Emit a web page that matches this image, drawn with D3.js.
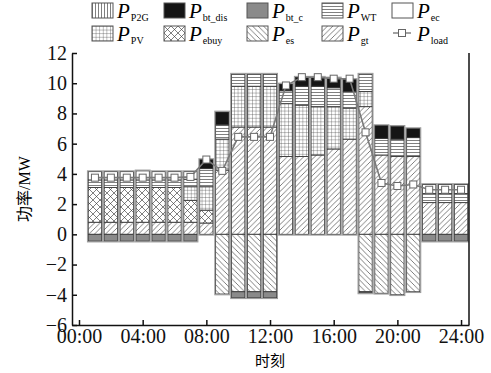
<!DOCTYPE html>
<html>
<head>
<meta charset="utf-8">
<script src="https://cdn.jsdelivr.net/npm/d3@7"></script>
<style>
  body { margin: 0; background: #fff; }
  svg { display: block; }
  .axis text { font-family: "Liberation Serif", "Times New Roman", serif; font-size: 20px; fill: #111; }
  .axis path, .axis line { stroke: #111; stroke-width: 1.5; }
</style>
</head>
<body>
<div id="chart"></div>
<script>
// hour slots, bars centred at 1..24
const hours = [1,2,3,4,5,6,7,8,9,10,11,12,13,14,15,16,17,18,19,20,21,22,23,24];

// supply side (MW)
const P_gt    = [0.8,0.8,0.8,0.8,0.8,0.8,0.8,0.75,4.25,7.1,7.1,7.1,5.15,5.15,5.25,5.65,6.3,8.45,5.25,5.15,5.15,2.1,2.1,2.1];
const P_ebuy  = [2.3,2.3,2.3,2.3,2.3,2.3,1.45,0.85,0,0,0,0,0,0,0,0,0,0,0,0,0,0,0,0];
const P_PV    = [0,0,0,0,0,0,0.9,1.55,2.05,2.7,2.7,2.7,3.5,3.4,3.2,2.8,2.05,1.0,0,0,0,0,0,0];
const P_WT    = [0.5,0.5,0.5,0.5,0.5,0.5,0.5,1.2,0.95,0.8,0.8,0.8,0.85,1.25,1.35,1.25,1.1,1.15,1.1,1.15,1.25,0.6,0.6,0.6];
const P_bt_dis= [0,0,0,0,0,0,0,0.6,0.85,0,0,0,0.45,0.6,0.6,0.65,0.8,0,0.85,0.85,0.6,0,0,0];
const P_ec    = [0.55,0.55,0.55,0.6,0.55,0.55,0.5,0,0,0,0,0,0,0,0,0,0,0,0,0,0,0.6,0.6,0.6];
const P_P2G   = [0,0,0,0,0,0,0,0,0,0,0,0,0,0,0,0,0,0,0,0,0,0,0,0];
// consumption side (MW)
const P_es    = [0,0,0,0,0,0,0,0,-3.95,-3.8,-3.8,-3.8,0,0,0,0,0,-3.8,-3.9,-4.0,-3.8,0,0,0];
const P_bt_c  = [-0.45,-0.45,-0.45,-0.45,-0.45,-0.45,-0.45,0,0,-0.4,-0.4,-0.4,0,0,0,0,0,-0.08,0,0,0,-0.45,-0.45,-0.45];
// electric load
const P_load  = [3.75,3.75,3.75,3.75,3.75,3.75,3.8,4.95,4.2,6.45,6.45,6.45,9.85,10.4,10.4,10.3,10.3,6.75,3.4,3.2,3.3,2.95,2.95,2.95];

const xTicks = [0,4,8,12,16,20,24];
const yTicks = [-6,-4,-2,0,2,4,6,8,10,12];

const series = [
  { key: 'gt',     vals: P_gt,     fill: 'url(#p-gt)' },
  { key: 'ebuy',   vals: P_ebuy,   fill: 'url(#p-ebuy)' },
  { key: 'PV',     vals: P_PV,     fill: 'url(#p-pv)' },
  { key: 'WT',     vals: P_WT,     fill: 'url(#p-wt)' },
  { key: 'bt_dis', vals: P_bt_dis, fill: '#151515' },
  { key: 'ec',     vals: P_ec,     fill: '#fff' },
  { key: 'P2G',    vals: P_P2G,    fill: 'url(#p-p2g)' },
  { key: 'es',     vals: P_es,     fill: 'url(#p-es)' },
  { key: 'bt_c',   vals: P_bt_c,   fill: '#8a8a8a' }
];

const W = 491, H = 373;
const margin = { top: 53, right: 22, bottom: 48, left: 72 };
const iw = W - margin.left - margin.right;
const ih = H - margin.top - margin.bottom;
const serif = '"Liberation Serif", "Times New Roman", serif';

const svg = d3.select('#chart').append('svg').attr('width', W).attr('height', H);

// hatch patterns
const defs = svg.append('defs');
function pattern(id, size, draw) {
  const p = defs.append('pattern').attr('id', id).attr('patternUnits', 'userSpaceOnUse')
    .attr('width', size).attr('height', size);
  p.append('rect').attr('width', size).attr('height', size).attr('fill', '#fff');
  draw(p, size);
}
const hs = '#3a3a3a', hw = 0.65;
pattern('p-gt', 5.5, (p, s) => p.append('path').attr('d', `M0,${s} L${s},0 M-1,1 L1,-1 M${s-1},${s+1} L${s+1},${s-1}`).attr('stroke', hs).attr('stroke-width', hw));
pattern('p-es', 5.5, (p, s) => p.append('path').attr('d', `M0,0 L${s},${s} M-1,${s-1} L1,${s+1} M${s-1},-1 L${s+1},1`).attr('stroke', hs).attr('stroke-width', hw));
pattern('p-ebuy', 7, (p, s) => p.append('path').attr('d', `M0,0 L${s},${s} M0,${s} L${s},0`).attr('stroke', hs).attr('stroke-width', hw));
pattern('p-pv', 3.6, (p, s) => p.append('path').attr('d', `M0,0 L${s},0 M0,0 L0,${s}`).attr('stroke', hs).attr('stroke-width', hw));
pattern('p-wt', 3, (p, s) => p.append('path').attr('d', `M0,0.5 L${s},0.5`).attr('stroke', hs).attr('stroke-width', hw));
pattern('p-p2g', 3, (p, s) => p.append('path').attr('d', `M0.5,0 L0.5,${s}`).attr('stroke', hs).attr('stroke-width', hw));

const x = d3.scaleLinear().domain([-0.44, 24.5]).range([0, iw]);
const y = d3.scaleLinear().domain([-6, 12]).range([ih, 0]);
const bw = x(0.84) - x(0);

const g = svg.append('g').attr('transform', `translate(${margin.left},${margin.top})`);

// stacked bars
const table = hours.map((h, i) => {
  const row = { h };
  series.forEach(s => { row[s.key] = s.vals[i]; });
  return row;
});
const stacked = d3.stack().keys(series.map(s => s.key)).offset(d3.stackOffsetDiverging)(table);

stacked.forEach((layer, li) => {
  g.append('g').selectAll('rect')
    .data(layer.filter(d => d[1] !== d[0]))
    .enter().append('rect')
      .attr('x', d => x(d.data.h) - bw / 2)
      .attr('y', d => y(Math.max(d[0], d[1])))
      .attr('width', bw)
      .attr('height', d => Math.abs(y(d[0]) - y(d[1])))
      .attr('fill', series[li].fill)
      .attr('stroke', '#3a3a3a')
      .attr('stroke-width', 0.9);
});

// outer grey rim of every column
const posTop = hours.map((h, i) => d3.sum(series, s => Math.max(s.vals[i], 0)));
const negBot = hours.map((h, i) => d3.sum(series, s => Math.min(s.vals[i], 0)));
g.append('g').selectAll('rect')
  .data(hours)
  .enter().append('rect')
    .attr('x', d => x(d) - bw / 2 - 0.8)
    .attr('y', (d, i) => y(posTop[i]) - 0.8)
    .attr('width', bw + 1.6)
    .attr('height', (d, i) => y(negBot[i]) - y(posTop[i]) + 1.6)
    .attr('fill', 'none')
    .attr('stroke', '#9a9a9a')
    .attr('stroke-width', 1);

// load curve
const line = d3.line().x((d, i) => x(hours[i])).y(d => y(d));
g.append('path').datum(P_load).attr('d', line)
  .attr('fill', 'none').attr('stroke', '#7a7a7a').attr('stroke-width', 1.6);
g.append('g').selectAll('rect')
  .data(P_load)
  .enter().append('rect')
    .attr('x', (d, i) => x(hours[i]) - 3.5)
    .attr('y', d => y(d) - 3.5)
    .attr('width', 7).attr('height', 7)
    .attr('fill', '#fff').attr('stroke', '#666').attr('stroke-width', 1);

// axes
g.append('g').attr('class', 'axis')
  .attr('transform', `translate(0,${ih})`)
  .call(d3.axisBottom(x).tickValues(xTicks).tickSizeInner(-5).tickSizeOuter(0).tickPadding(4)
    .tickFormat(d => String(d).padStart(2, '0') + ':00'));

g.append('g').attr('class', 'axis')
  .call(d3.axisLeft(y).tickValues(yTicks).tickSizeInner(-5).tickSizeOuter(0).tickPadding(5));

g.append('line').attr('x1', iw).attr('x2', iw).attr('y1', 0).attr('y2', ih)
  .attr('stroke', '#111').attr('stroke-width', 1.5);

// axis titles
svg.append('text')
  .attr('transform', `translate(30,${margin.top + y(3)}) rotate(-90)`)
  .attr('text-anchor', 'middle')
  .style('font-size', '16px')
  .html('<tspan font-family="Noto Sans CJK SC">功率</tspan><tspan font-family=\'"Liberation Serif", serif\'>/MW</tspan>');

svg.append('text')
  .attr('x', margin.left + x(12)).attr('y', 366)
  .attr('text-anchor', 'middle')
  .style('font-family', '"Noto Sans CJK SC"').style('font-size', '15px')
  .text('时刻');

// legend
const legendItems = [
  { sub: 'P2G', fill: 'url(#p-p2g)', col: 0, row: 0 },
  { sub: 'bt_dis', fill: '#151515', col: 1, row: 0 },
  { sub: 'bt_c', fill: '#8a8a8a', col: 2, row: 0 },
  { sub: 'WT', fill: 'url(#p-wt)', col: 3, row: 0 },
  { sub: 'ec', fill: '#fff', col: 4, row: 0 },
  { sub: 'PV', fill: 'url(#p-pv)', col: 0, row: 1 },
  { sub: 'ebuy', fill: 'url(#p-ebuy)', col: 1, row: 1 },
  { sub: 'es', fill: 'url(#p-es)', col: 2, row: 1 },
  { sub: 'gt', fill: 'url(#p-gt)', col: 3, row: 1 },
  { sub: 'load', fill: null, col: 4, row: 1 }
];
const colX = [92, 164, 247, 322, 392];
const rowY = [3, 26];

const lg = svg.append('g').selectAll('g').data(legendItems).enter().append('g')
  .attr('transform', d => `translate(${colX[d.col]},${rowY[d.row]})`);

lg.filter(d => d.fill).append('rect')
  .attr('width', 21).attr('height', 15)
  .attr('fill', d => d.fill).attr('stroke', '#555').attr('stroke-width', 1);

const ll = lg.filter(d => !d.fill);
ll.append('line').attr('x1', 1).attr('x2', 19).attr('y1', 7).attr('y2', 7)
  .attr('stroke', '#7a7a7a').attr('stroke-width', 1.4);
ll.append('rect').attr('x', 6.5).attr('y', 3.5).attr('width', 7).attr('height', 7)
  .attr('fill', '#fff').attr('stroke', '#666');

const lt = lg.append('text')
  .attr('x', 25).attr('y', 14.5)
  .style('font-family', serif);
lt.append('tspan').style('font-style', 'italic').style('font-size', '21px').text('P');
lt.append('tspan').attr('dx', 1).attr('dy', 3).style('font-size', '10px').text(d => d.sub);
</script>
</body>
</html>
